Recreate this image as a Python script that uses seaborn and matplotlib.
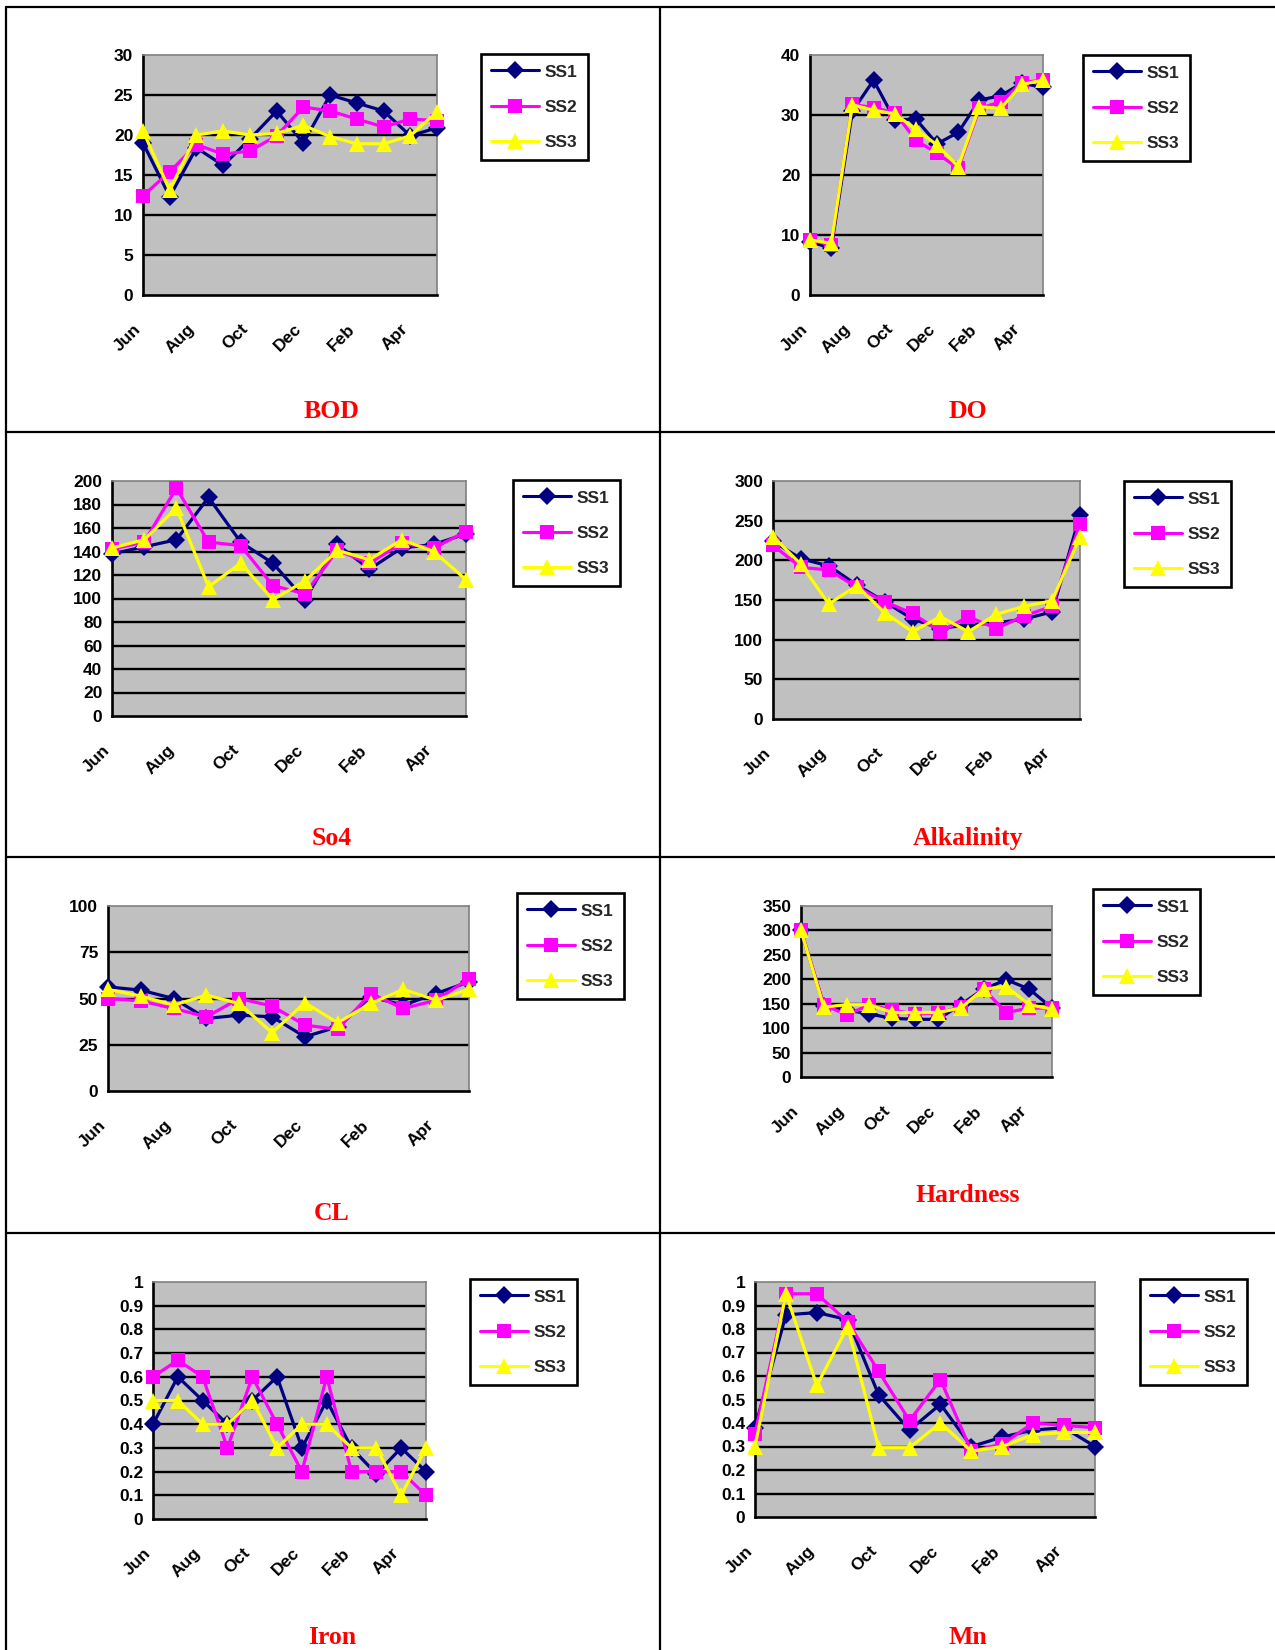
#!/usr/bin/env python3
"""
Monthly water-quality parameters at three sampling stations (SS1-SS3),
laid out as a 4x2 table of small line charts.
"""

import numpy as np
import pandas as pd
import matplotlib
matplotlib.use('Agg')
import matplotlib.pyplot as plt
import seaborn as sns
from matplotlib.lines import Line2D
from matplotlib.transforms import ScaledTranslation

# --- Plotting Style Configuration ---
sns.set_theme(style="white")
plt.rcParams['font.family'] = ['Liberation Sans', 'DejaVu Sans']

W, H = 1275, 1650

# --- Data ---
months = ['Jun', 'Jul', 'Aug', 'Sep', 'Oct', 'Nov', 'Dec', 'Jan', 'Feb', 'Mar', 'Apr', 'May']
sites = ['SS1', 'SS2', 'SS3']

bod_ss1 = [19.0, 12.3, 18.4, 16.2, 19.5, 23.0, 19.0, 25.0, 24.0, 23.0, 19.9, 20.9]
bod_ss2 = [12.4, 15.4, 18.8, 17.6, 18.0, 19.9, 23.5, 23.0, 22.0, 21.0, 22.0, 21.8]
bod_ss3 = [20.5, 13.1, 20.0, 20.5, 20.0, 20.2, 21.2, 19.8, 18.9, 18.9, 19.9, 22.9]

do_ss1 = [8.9, 7.8, 30.6, 35.8, 29.2, 29.3, 25.2, 27.1, 32.5, 33.2, 35.3, 34.6]
do_ss2 = [9.2, 8.3, 31.8, 31.2, 30.4, 25.8, 23.6, 21.1, 31.1, 32.2, 35.4, 35.8]
do_ss3 = [9.2, 8.6, 31.7, 30.8, 30.2, 27.6, 25.0, 21.4, 31.4, 31.1, 35.1, 35.8]

so4_ss1 = [138, 144, 150, 186, 148, 130, 99, 146, 125, 143, 146, 155]
so4_ss2 = [142, 148, 194, 148, 145, 111, 104, 141, 130, 147, 143, 157]
so4_ss3 = [143, 150, 177, 110, 130, 99, 115, 141, 133, 150, 140, 116]

alk_ss1 = [224, 202, 193, 169, 148, 126, 114, 119, 121, 126, 135, 257]
alk_ss2 = [219, 191, 188, 166, 148, 133, 110, 129, 114, 130, 142, 246]
alk_ss3 = [230, 195, 145, 168, 134, 110, 129, 110, 132, 142, 149, 230]

cl_ss1 = [56.3, 54.5, 50.0, 39.2, 41.0, 40.1, 29.3, 34.7, 50.9, 46.4, 52.7, 59.0]
cl_ss2 = [50.0, 48.7, 44.6, 40.1, 50.0, 45.9, 35.6, 33.3, 52.7, 44.6, 49.1, 60.8]
cl_ss3 = [54.9, 51.3, 46.4, 51.8, 47.3, 31.5, 47.7, 36.9, 47.3, 54.9, 49.1, 54.9]

hard_ss1 = [300, 146, 137, 129, 120, 118, 118, 148, 180, 199, 180, 141]
hard_ss2 = [300, 148, 127, 148, 137, 129, 131, 143, 180, 132, 141, 141]
hard_ss3 = [300, 143, 148, 148, 132, 132, 132, 141, 180, 185, 148, 139]

iron_ss1 = [0.4, 0.6, 0.5, 0.4, 0.5, 0.6, 0.3, 0.5, 0.3, 0.19, 0.3, 0.2]
iron_ss2 = [0.6, 0.67, 0.6, 0.3, 0.6, 0.4, 0.2, 0.6, 0.2, 0.2, 0.2, 0.1]
iron_ss3 = [0.5, 0.5, 0.4, 0.4, 0.5, 0.3, 0.4, 0.4, 0.3, 0.3, 0.1, 0.3]

mn_ss1 = [0.38, 0.86, 0.87, 0.84, 0.52, 0.37, 0.48, 0.30, 0.34, 0.37, 0.38, 0.30]
mn_ss2 = [0.355, 0.95, 0.95, 0.83, 0.62, 0.41, 0.585, 0.28, 0.31, 0.40, 0.39, 0.38]
mn_ss3 = [0.30, 0.95, 0.56, 0.81, 0.295, 0.295, 0.40, 0.28, 0.30, 0.35, 0.36, 0.36]

# --- Panel layout (pixel boxes in the 1275x1650 page) ---
panels = [
    dict(name='BOD', series=(bod_ss1, bod_ss2, bod_ss3), yticks=np.arange(0, 31, 5),
         box=(143, 55, 437, 295), legend=(481, 54), title=(332, 412)),
    dict(name='DO', series=(do_ss1, do_ss2, do_ss3), yticks=np.arange(0, 41, 10),
         box=(810, 55, 1043, 295), legend=(1083, 55), title=(968, 412)),
    dict(name='So4', series=(so4_ss1, so4_ss2, so4_ss3), yticks=np.arange(0, 201, 20),
         box=(112, 481, 466, 716), legend=(513, 480), title=(332, 838)),
    dict(name='Alkalinity', series=(alk_ss1, alk_ss2, alk_ss3), yticks=np.arange(0, 301, 50),
         box=(773, 481, 1080, 719), legend=(1124, 481), title=(968, 838)),
    dict(name='CL', series=(cl_ss1, cl_ss2, cl_ss3), yticks=np.arange(0, 101, 25),
         box=(108, 906, 469, 1091), legend=(517, 893), title=(332, 1213)),
    dict(name='Hardness', series=(hard_ss1, hard_ss2, hard_ss3), yticks=np.arange(0, 351, 50),
         box=(801, 906, 1052, 1077), legend=(1093, 889), title=(968, 1195)),
    dict(name='Iron', series=(iron_ss1, iron_ss2, iron_ss3), yticks=np.round(np.arange(0, 1.01, 0.1), 1),
         box=(153, 1282, 426, 1519), legend=(470, 1279), title=(332, 1638)),
    dict(name='Mn', series=(mn_ss1, mn_ss2, mn_ss3), yticks=np.round(np.arange(0, 1.01, 0.1), 1),
         box=(755, 1282, 1095, 1517), legend=(1140, 1279), title=(968, 1638)),
]

COLORS = {'SS1': '#000080', 'SS2': '#FF00FF', 'SS3': '#FFFF00'}
MARKERS = {'SS1': 'D', 'SS2': 's', 'SS3': '^'}
MSIZE = {'SS1': 9, 'SS2': 10, 'SS3': 11}

fig = plt.figure(figsize=(W / 100, H / 100), dpi=100)
fig.patch.set_facecolor('white')


def fx(x):
    return x / W


def fy(y):
    return 1 - y / H


for p in panels:
    x0, y0, x1, y1 = p['box']
    ax = fig.add_axes([fx(x0), fy(y1), (x1 - x0) / W, (y1 - y0) / H])
    ax.set_facecolor('#C0C0C0')

    df = pd.DataFrame({
        'month': np.tile(np.arange(len(months)), len(sites)),
        'value': np.concatenate(p['series']),
        'site': np.repeat(sites, len(months)),
    })
    sns.lineplot(data=df, x='month', y='value', hue='site', style='site',
                 markers=MARKERS, dashes=False, palette=COLORS, linewidth=2.3,
                 markersize=9, markeredgewidth=0, legend=False, ax=ax)
    for line, s in zip(ax.lines, sites):
        line.set_clip_on(False)
        line.set_markersize(MSIZE[s])
        line.set_zorder(3)

    yt = p['yticks']
    for t in yt[1:-1]:
        ax.axhline(t, color='black', lw=1.7, zorder=1)

    ax.set_xlim(0, len(months) - 1)
    ax.set_ylim(yt[0], yt[-1])
    ax.set_yticks(yt)
    ax.set_yticklabels([f"{v:g}" for v in yt])
    ax.set_xticks(np.arange(len(months)))
    ax.set_xticklabels([m if i % 2 == 0 else '' for i, m in enumerate(months)],
                       rotation=45, ha='right', va='top', rotation_mode='anchor')
    ax.set_xlabel('')
    ax.set_ylabel('')

    ax.tick_params(axis='both', direction='out', length=5, width=1.7, color='black',
                   labelsize=12.5, labelcolor='black')
    ax.tick_params(axis='x', pad=12)
    ax.tick_params(axis='y', pad=2)
    shift = ScaledTranslation(-7 / 72, -2 / 72, fig.dpi_scale_trans)
    for lab in ax.get_xticklabels():
        lab.set_fontweight('bold')
        lab.set_transform(lab.get_transform() + shift)
    for lab in ax.get_yticklabels():
        lab.set_fontweight('bold')

    for side in ['left', 'bottom']:
        ax.spines[side].set_color('black')
        ax.spines[side].set_linewidth(1.9)
    for side in ['top', 'right']:
        ax.spines[side].set_color('#808080')
        ax.spines[side].set_linewidth(1.2)

    # --- Legend box ---
    handles = [Line2D([], [], color=COLORS[s], marker=MARKERS[s], lw=2.2,
                      markersize=MSIZE[s], markeredgewidth=0) for s in sites]
    lx, ly = p['legend']
    leg = fig.legend(handles, sites, loc='upper left',
                     bbox_to_anchor=(fx(lx), fy(ly)), bbox_transform=fig.transFigure,
                     borderaxespad=0, frameon=True, fancybox=False, framealpha=1,
                     edgecolor='black', handlelength=2.75, handletextpad=0.3,
                     labelspacing=1.15, borderpad=0.6,
                     prop={'family': 'Liberation Sans', 'weight': 'bold', 'size': 12.5})
    leg.get_frame().set_linewidth(1.9)

    # --- Panel name ---
    tx, ty = p['title']
    fig.text(fx(tx), fy(ty), p['name'], ha='center', va='center', color='red',
             fontsize=18.5, fontweight='bold', family='Liberation Serif')

# --- Table borders ---
def rule(xa, ya, xb, yb):
    fig.add_artist(Line2D([fx(xa), fx(xb)], [fy(ya), fy(yb)],
                          transform=fig.transFigure, color='black', lw=1.6))


rule(6, 7, W, 7)
rule(6, 7, 6, H)
rule(660, 7, 660, H)
for yy in [432, 857, 1233]:
    rule(6, yy, W, yy)

plt.savefig('out.png', dpi=100)
